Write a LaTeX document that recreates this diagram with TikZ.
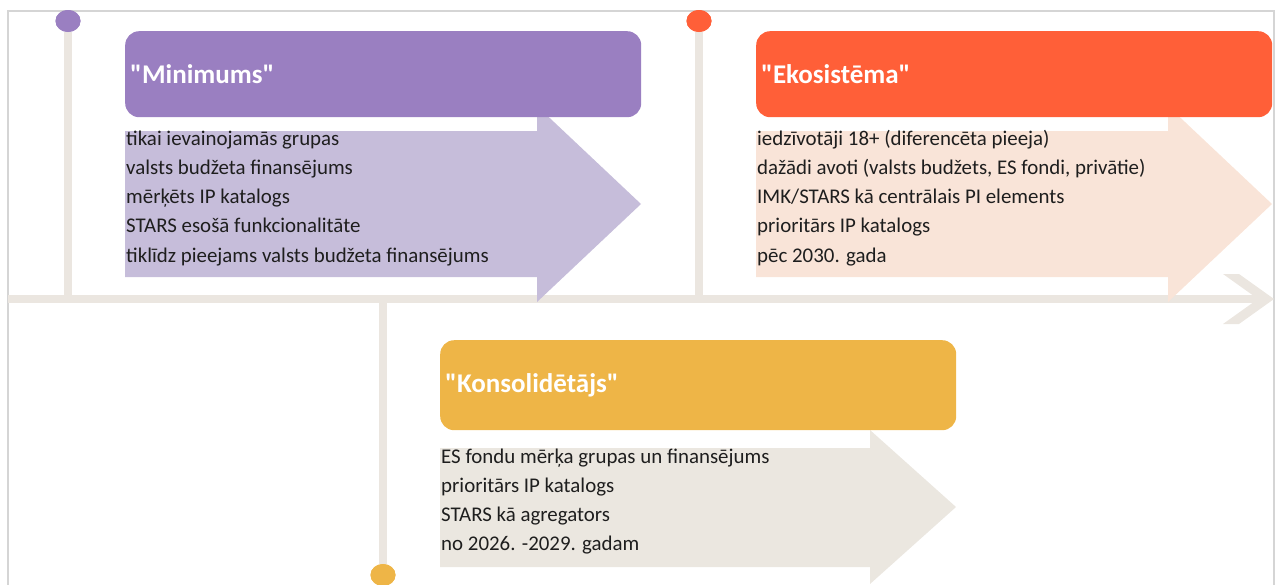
\documentclass[tikz,border=0pt]{standalone}
\usepackage{fontspec}
\setmainfont{Carlito}
\usetikzlibrary{shapes.geometric}

\definecolor{minhead}{HTML}{9A7FC1}
\definecolor{minbody}{HTML}{C6BDDA}
\definecolor{ekohead}{HTML}{FF5F38}
\definecolor{ekobody}{HTML}{F9E4D8}
\definecolor{konhead}{HTML}{EEB547}
\definecolor{konbody}{HTML}{EBE7E0}
\definecolor{trackc}{HTML}{EBE6E0}
\definecolor{framec}{HTML}{D5D5D5}
\definecolor{textc}{HTML}{1E1E1E}

\tikzset{
	head/.style={rounded corners=14pt, anchor=north west, inner xsep=5pt, inner ysep=0pt,
		text width=506pt, align=left, text=white, font=\fontsize{27}{30}\selectfont\bfseries},
	line/.style={anchor=base west, inner sep=0pt, text=textc, font=\fontsize{20.9}{24}\selectfont},
	track/.style={draw=trackc, line width=8pt},
	dot/.style={shape=ellipse, minimum width=25pt, minimum height=22pt, inner sep=0pt}
}

\begin{document}
\begin{tikzpicture}[x=1pt, y=-1pt]
	\useasboundingbox (0,0) rectangle (1275,584);
	\clip (0,0) rectangle (1275,584);

	% frame
	\draw[framec, line width=2pt] (8,590) -- (8,11) -- (1274,11) -- (1274,590);

	% time line
	\coordinate (barL) at (8,299);
	\coordinate (barR) at (1262,299);
	\path [track] (barL) edge (barR);
	\fill[trackc] (1223,274) -- (1239,274) -- (1274,299) -- (1239,324) -- (1223,324) -- (1258,299) -- cycle;

	\node[dot, fill=minhead] (dotmin) at (68,21)  {};
	\node[dot, fill=ekohead] (doteko) at (699,21) {};
	\node[dot, fill=konhead] (dotkon) at (383,575) {};

	\path [track] (dotmin) edge (dotmin |- barL);
	\path [track] (doteko) edge (doteko |- barL);
	\path [track] (dotkon) edge (dotkon |- barL);
	\node[dot, fill=minhead] at (dotmin) {};
	\node[dot, fill=ekohead] at (doteko) {};
	\node[dot, fill=konhead] at (dotkon) {};

	% arrows
	\fill[minbody] (125,131) -- (537,131) -- (537,106) -- (641,204) -- (537,302) -- (537,277) -- (125,277) -- cycle;
	\fill[ekobody] (756,131) -- (1168,131) -- (1168,106) -- (1272,204) -- (1168,302) -- (1168,277) -- (756,277) -- cycle;
	\fill[konbody] (440,448) -- (870,448) -- (870,430) -- (956,507) -- (870,584) -- (870,567) -- (440,567) -- cycle;

	% headers
	\node[head, fill=minhead, minimum height=86pt] (min) at (125,31)  {\textquotedbl Minimums\textquotedbl};
	\node[head, fill=ekohead, minimum height=86pt] (eko) at (756,31)  {\textquotedbl Ekosistēma\textquotedbl};
	\node[head, fill=konhead, minimum height=90pt] (kon) at (440,340) {\textquotedbl Konsolidētājs\textquotedbl};

	% texts
	\foreach \t [count=\i] in {tikai ievainojamās grupas, valsts budžeta finansējums,
		mērķēts IP katalogs, STARS esošā funkcionalitāte, tiklīdz pieejams valsts budžeta finansējums}
		\node[line] (min\i) at (126,{145+29.3*(\i-1)}) {\t};
	\foreach \t [count=\i] in {iedzīvotāji 18+ (diferencēta pieeja), {dažādi avoti (valsts budžets, ES fondi, privātie)},
		IMK/STARS kā centrālais PI elements, prioritārs IP katalogs, pēc 2030. gada}
		\node[line] (eko\i) at (757,{145+29.3*(\i-1)}) {\t};
	\foreach \t [count=\i] in {ES fondu mērķa grupas un finansējums, prioritārs IP katalogs,
		STARS kā agregators, no 2026. -2029. gadam}
		\node[line] (kon\i) at (441,{463+29.3*(\i-1)}) {\t};
\end{tikzpicture}
\end{document}
